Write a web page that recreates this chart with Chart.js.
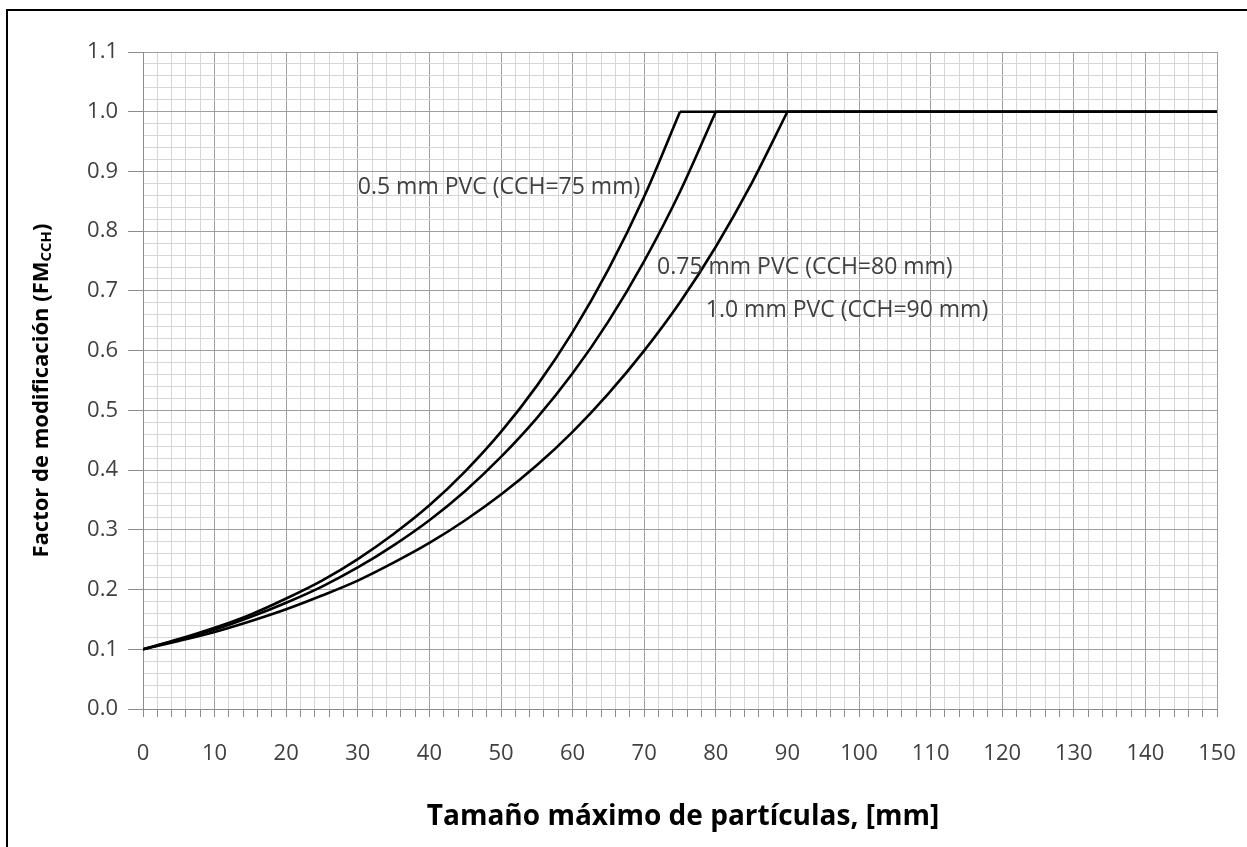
<!DOCTYPE html>
<html>
<head>
<meta charset="utf-8">
<script src="https://cdn.jsdelivr.net/npm/chart.js@4"></script>
<style>
  html, body { margin: 0; padding: 0; background: #fff; }
  #wrap { position: relative; width: 1247px; height: 847px; overflow: hidden; }
  #frame { position: absolute; left: 6px; top: 9px; width: 1300px; height: 900px;
           border-left: 2px solid #000; border-top: 2px solid #000; }
  #chart { position: absolute; left: 0; top: 0; }
</style>
</head>
<body>
<div id="wrap">
  <div id="frame"></div>
  <canvas id="chart" width="1247" height="847"></canvas>
</div>
<script>
// particle size, mm
const sizes = [0, 5, 10, 15, 20, 25, 30, 35, 40, 45, 50, 55, 60, 65, 70, 75, 80, 85, 90, 150];

// modification factor
const fm05 = [0.100, 0.117, 0.136, 0.158, 0.185, 0.215, 0.251, 0.293, 0.341, 0.398, 0.464, 0.541, 0.631, 0.736, 0.858, 1.0, 1.0, 1.0, 1.0, 1.0];
const fm075 = [0.100, 0.116, 0.133, 0.154, 0.178, 0.205, 0.237, 0.274, 0.316, 0.365, 0.422, 0.487, 0.562, 0.649, 0.750, 0.866, 1.0, 1.0, 1.0, 1.0];
const fm10 = [0.100, 0.114, 0.129, 0.147, 0.167, 0.190, 0.215, 0.245, 0.278, 0.316, 0.359, 0.408, 0.464, 0.528, 0.600, 0.681, 0.774, 0.880, 1.0, 1.0];

const curveLabels = ['0.5 mm PVC (CCH=75 mm)', '0.75 mm PVC (CCH=80 mm)', '1.0 mm PVC (CCH=90 mm)'];
// where each label sits, in axis units (left edge, middle)
const labelAt = [[30.0, 0.874], [71.8, 0.739], [78.6, 0.668]];

const xTitle = 'Tamaño máximo de partículas, [mm]';
const yTitle = 'Factor de modificación (FM';
const ySub = 'CCH';

const gridMajor = '#9e9e9e';
const gridMinor = '#d6d6d6';
const textGray = '#404040';
const fontName = "'Open Sans'";

const isMajorY = (v) => Math.abs(v * 10 - Math.round(v * 10)) < 1e-6;
const isMajorX = (v) => Math.abs(v % 10) < 1e-6;

// split a curve where it reaches 1.0 so the corner stays sharp
const buildDatasets = (ys) => {
  const k = ys.indexOf(1.0);
  const rise = [];
  const flat = [];
  for (let i = 0; i < sizes.length; i++) {
    if (i <= k) rise.push({ x: sizes[i], y: ys[i] });
    if (i >= k) flat.push({ x: sizes[i], y: ys[i] });
  }
  const style = {
    borderColor: '#000',
    borderWidth: 2.6,
    pointRadius: 0,
    fill: false,
  };
  return [
    { ...style, data: rise, cubicInterpolationMode: 'monotone' },
    { ...style, data: flat, tension: 0 },
  ];
};

const labelPlugin = {
  id: 'labels',
  afterDatasetsDraw(chart) {
    const { ctx, scales: { x, y }, chartArea } = chart;
    ctx.save();
    ctx.fillStyle = textGray;
    ctx.font = '23px ' + fontName;
    ctx.textBaseline = 'middle';
    ctx.textAlign = 'left';
    curveLabels.forEach((t, i) => {
      ctx.fillText(t, x.getPixelForValue(labelAt[i][0]), y.getPixelForValue(labelAt[i][1]));
    });

    // x title
    ctx.fillStyle = '#000';
    ctx.font = 'bold 28px ' + fontName;
    ctx.textAlign = 'center';
    ctx.fillText(xTitle, (chartArea.left + chartArea.right) / 2 + 3, chartArea.bottom + 108);

    // y title with subscript
    ctx.translate(chartArea.left - 101, (chartArea.top + chartArea.bottom) / 2 + 10);
    ctx.rotate(-Math.PI / 2);
    ctx.font = 'bold 22px ' + fontName;
    const w1 = ctx.measureText(yTitle).width;
    ctx.font = 'bold 15px ' + fontName;
    const w2 = ctx.measureText(ySub).width;
    ctx.font = 'bold 22px ' + fontName;
    const w3 = ctx.measureText(')').width;
    let px = -(w1 + w2 + w3) / 2;
    ctx.textAlign = 'left';
    ctx.fillText(yTitle, px, 0);
    px += w1;
    ctx.font = 'bold 15px ' + fontName;
    ctx.fillText(ySub, px, 5);
    px += w2;
    ctx.font = 'bold 22px ' + fontName;
    ctx.fillText(')', px, 0);
    ctx.restore();
  }
};

const datasets = [...buildDatasets(fm05), ...buildDatasets(fm075), ...buildDatasets(fm10)];

const config = {
  type: 'line',
  data: { datasets },
  options: {
    responsive: false,
    animation: false,
    devicePixelRatio: 1,
    layout: { padding: { left: 0, top: 52, right: 30, bottom: 0 } },
    plugins: {
      legend: { display: false },
      tooltip: { enabled: false },
    },
    scales: {
      x: {
        type: 'linear',
        min: 0,
        max: 150,
        afterFit: (scale) => {
          scale.height = 138;
          scale.paddingLeft = 0;
          scale.paddingRight = 0;
        },
        border: { color: '#8c8c8c', width: 1 },
        grid: {
          color: (c) => (isMajorX(c.tick.value) ? gridMajor : gridMinor),
          tickColor: '#8c8c8c',
          tickLength: 8,
          lineWidth: 1,
        },
        ticks: {
          stepSize: 2,
          autoSkip: false,
          maxRotation: 0,
          padding: 24,
          color: textGray,
          font: { family: fontName, size: 22 },
          callback: (v) => (isMajorX(v) ? String(v) : ''),
        },
      },
      y: {
        type: 'linear',
        min: 0,
        max: 1.1,
        afterFit: (scale) => { scale.width = 143; },
        border: { color: '#8c8c8c', width: 1 },
        grid: {
          color: (c) => (isMajorY(c.tick.value) ? gridMajor : gridMinor),
          tickColor: (c) => (isMajorY(c.tick.value) ? '#8c8c8c' : 'rgba(0,0,0,0)'),
          tickLength: 15,
          lineWidth: 1,
        },
        ticks: {
          stepSize: 0.02,
          autoSkip: false,
          padding: 10,
          color: textGray,
          font: { family: fontName, size: 22 },
          callback: (v) => (isMajorY(v) ? v.toFixed(1) : ''),
        },
      },
    },
  },
  plugins: [labelPlugin],
};

document.addEventListener('DOMContentLoaded', () => {
  const fmChart = new Chart(document.getElementById('chart'), config);
});
</script>
</body>
</html>
